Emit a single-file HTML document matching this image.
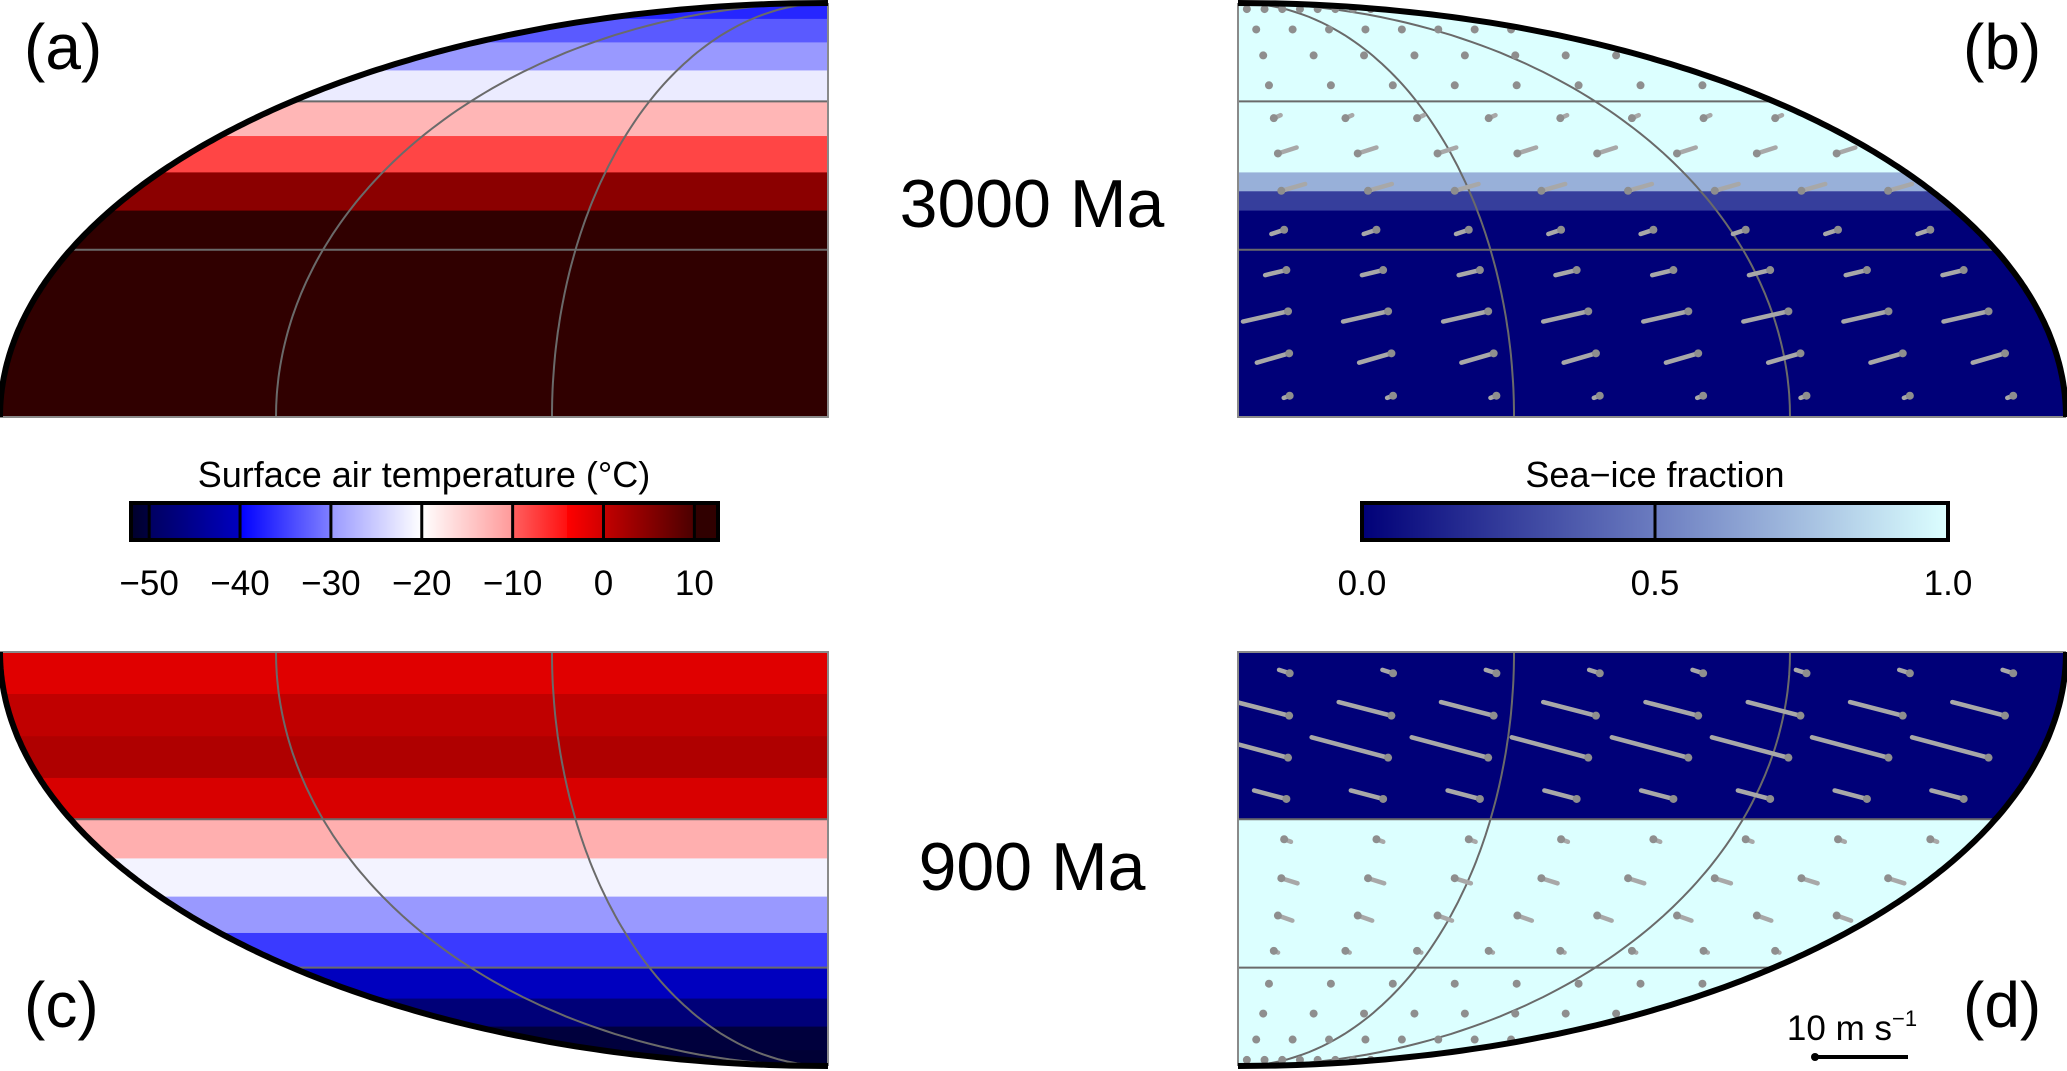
<!DOCTYPE html>
<html><head><meta charset="utf-8">
<style>
html,body{margin:0;padding:0;background:#fff;}
svg{display:block;font-family:"Liberation Sans",Arial,sans-serif;}
</style></head>
<body>
<svg id="fig" width="2067" height="1071" viewBox="0 0 2067 1071" xmlns="http://www.w3.org/2000/svg">
  <defs id="defs"></defs>
  <g id="maps"></g>
  <g id="cbars"></g>
  <text x="24" y="69" font-size="64">(a)</text>
  <text x="1963" y="69" font-size="64">(b)</text>
  <text x="24" y="1027" font-size="64">(c)</text>
  <text x="1963" y="1027" font-size="64">(d)</text>
  <text x="1032" y="227" font-size="68" text-anchor="middle">3000 Ma</text>
  <text x="1032" y="890" font-size="68" text-anchor="middle">900 Ma</text>
  <text x="424" y="487" font-size="36" text-anchor="middle">Surface air temperature (°C)</text>
  <text x="1655" y="487" font-size="36" text-anchor="middle">Sea−ice fraction</text>
  <g>
    <text x="1852" y="1040" font-size="35" text-anchor="middle">10 m s<tspan dy="-14" font-size="22">−1</tspan></text>
    <line x1="1815" y1="1057" x2="1908" y2="1057" stroke="#000" stroke-width="4"/>
    <circle cx="1815" cy="1057" r="4" fill="#000"/>
  </g>
</svg>
<script>
// ---------- data ----------
const bandEdgesT = [0,7.5,15,22.5,30,37.5,45,52.5,60,67.5,75,82.5,90];
const temp3000 = [11,11,11,11,11,4.7,-8,-12.8,-22,-30,-33,-37];
const temp900 = [-1.4,0.3,1.7,-0.7,-12.2,-21.2,-30,-35.5,-40.1,-47.5,-50.3,-51];
const iceEdges3000 = [0,37.5,41.25,45,90];
const ice3000 = [0,0.25,0.7,1];
const iceEdges900 = [0,30,90];
const ice900 = [0,1];
const windLats = [3.75,11.25,18.75,26.25,33.75,41.25,48.75,56.25,63.75,71.25,78.75,86.25];
const windU3000 = [0.7,3.8,5.3,2.5,1.5,-2.8,-2.2,-0.8,0,0,0,0];
const windV3000 = [0.25,1.1,1.2,0.6,0.5,-0.8,-0.7,-0.35,0,0,0,0];
const windU900 = [1.25,6.2,9,3.8,-0.8,-1.9,-1.7,-0.5,0,0,0,0];
const windV900 = [-0.4,-1.6,-2.4,-1,0.3,0.6,0.6,0.2,0,0,0,0];
const tempTicks = [-50,-40,-30,-20,-10,0,10];
const tempTickLabels = ["−50","−40","−30","−20","−10","0","10"];
const iceTicks = [0,0.5,1];
const iceTickLabels = ["0.0","0.5","1.0"];

const NS='http://www.w3.org/2000/svg';
function mk(tag, attrs, parent){const e=document.createElementNS(NS,tag);for(const k in attrs)e.setAttribute(k,attrs[k]);if(parent)parent.appendChild(e);return e;}
function hex(c){return [parseInt(c.slice(1,3),16),parseInt(c.slice(3,5),16),parseInt(c.slice(5,7),16)];}
function lerp(a,b,t){const A=hex(a),B=hex(b);return 'rgb('+A.map((v,i)=>Math.round(v+(B[i]-v)*t)).join(',')+')';}
const tSegs=[[-53,-50,'#000020','#000040'],[-50,-40,'#000060','#0000c0'],[-40,-30,'#0000ff','#8080ff'],[-30,-20,'#9999ff','#ffffff'],[-20,-10,'#ffffff','#ff9999'],[-10,-4,'#ff6060','#ff1010'],[-4,0,'#ff0000','#d00000'],[0,10,'#c40000','#4a0000'],[10,14,'#300000','#300000']];
function tColor(v){for(const s of tSegs){if(v>=s[0]&&v<s[1])return lerp(s[2],s[3],(v-s[0])/(s[1]-s[0]));}return v<-53?'#000020':'#300000';}
function iColor(v){return v<0.5?lerp('#000078','#6b7cc0',v/0.5):lerp('#6b7cc0','#dcffff',(v-0.5)/0.5);}

// ---------- projection (Mollweide) ----------
const RX=828, RY=414;
function theta(lat){const p=lat*Math.PI/180;if(Math.abs(lat)>=89.999)return Math.sign(lat)*Math.PI/2;let t=p;for(let i=0;i<50;i++){const f=2*t+Math.sin(2*t)-Math.PI*Math.sin(p);t-=f/(2+2*Math.cos(2*t));}return t;}
function proj(P,lat,lon){const t=theta(lat);return [P.cx+P.dx*RX*(lon/180)*Math.cos(t), P.cy+P.dy*RY*Math.sin(t)];}
const panels={
 a:{cx:828,cy:417,dx:-1,dy:-1},b:{cx:1238,cy:417,dx:1,dy:-1},
 c:{cx:828,cy:652,dx:-1,dy:1},d:{cx:1238,cy:652,dx:1,dy:1}};

const maps=document.getElementById('maps');
const defs=document.getElementById('defs');

function outlinePts(P){const pts=[[P.cx,P.cy]];for(let l=0;l<=90;l+=1)pts.push(proj(P,l,180));return pts;}
function ptsStr(pts){return pts.map(p=>p[0].toFixed(1)+','+p[1].toFixed(1)).join(' ');}

function drawPanel(key,edges,vals,colorFn,name,uArr,vArr){
  const P=panels[key];
  const g=mk('g',{},maps);
  
  
  const cp=mk('clipPath',{id:'clip-'+key},defs);
  mk('polygon',{points:ptsStr(outlinePts(P))},cp);
  const inner=mk('g',{'clip-path':'url(#clip-'+key+')'},g);
  for(let i=0;i<vals.length;i++){
    const y0=proj(P,edges[i],0)[1], y1=proj(P,edges[i+1],0)[1];
    const x=Math.min(P.cx,P.cx+P.dx*RX);
    const r=mk('rect',{x:x,y:Math.min(y0,y1)-0.5,width:RX,height:Math.abs(y1-y0)+1,fill:colorFn(vals[i])},inner);
    
    
  }
  [30,60].forEach(lat=>{
    const a=proj(P,lat,0),b=proj(P,lat,180);
    const l=mk('line',{x1:a[0],y1:a[1],x2:b[0],y2:b[1],stroke:'#6a6a6a','stroke-width':2},inner);
    
    
  });
  [60,120].forEach(lon=>{
    const pts=[];for(let l=0;l<=90;l+=1)pts.push(proj(P,l,lon));
    const m=mk('polyline',{points:ptsStr(pts),fill:'none',stroke:'#6a6a6a','stroke-width':2},inner);
    
    
  });
  if(uArr){
    const S=8.5;
    for(let r=0;r<windLats.length;r++){
      const lat=windLats[r];
      for(let i=0;i<8;i++){
        const lon=180*(i+0.5)/8;
        const h=proj(P,lat,lon);
        const tx=h[0]-uArr[r]*S, ty=h[1]+vArr[r]*S;
        const ln=mk('line',{x1:tx,y1:ty,x2:h[0],y2:h[1],stroke:'#a8a8a8','stroke-width':4.5,'stroke-linecap':'round'},inner);
        
        
        const c=mk('circle',{cx:h[0],cy:h[1],r:4,fill:'#8e8e8e'},inner);
        
        
      }
    }
  }
  const a=proj(P,0,0),b=proj(P,0,180),p=proj(P,90,0);
  const fe=mk('polyline',{points:ptsStr([b,a,p]),fill:'none',stroke:'#8a8a8a','stroke-width':2},g);
  
  
  const bpts=[];for(let l=0;l<=90;l+=0.5)bpts.push(proj(P,l,180));
  const bd=mk('polyline',{points:ptsStr(bpts),fill:'none',stroke:'#000','stroke-width':6,'stroke-linecap':'butt'},g);
  
  
}
drawPanel('a',bandEdgesT,temp3000,tColor,'panel-a-temperature-3000ma');
drawPanel('b',iceEdges3000,ice3000,iColor,'panel-b-sea-ice-3000ma',windU3000,windV3000);
drawPanel('c',bandEdgesT,temp900,tColor,'panel-c-temperature-900ma');
drawPanel('d',iceEdges900,ice900,iColor,'panel-d-sea-ice-900ma',windU900,windV900);

const cb=document.getElementById('cbars');
function colorbar(x0,x1,vmin,vmax,colorFn,ticks,labels,name,divs){
  const g=mk('g',{},cb);
  
  
  const y=503,h=37;
  const sx=v=>x0+(v-vmin)/(vmax-vmin)*(x1-x0);
  const n=Math.round(x1-x0);
  for(let i=0;i<n;i++){
    const v=vmin+(i+0.5)/n*(vmax-vmin);
    mk('rect',{x:x0+i,y:y,width:1.2,height:h,fill:colorFn(v)},g);
  }
  divs.forEach(v=>{const dv=mk('line',{x1:sx(v),y1:y,x2:sx(v),y2:y+h,stroke:'#000','stroke-width':3},g);
    
    });
  const fr=mk('rect',{x:x0,y:y,width:x1-x0,height:h,fill:'none',stroke:'#000','stroke-width':4},g);
  
  
  ticks.forEach((v,i)=>{const t=mk('text',{x:sx(v),y:595,'font-size':35,'text-anchor':'middle'},g);t.textContent=labels[i];
    
    });
}
colorbar(131,718,-52,12.6,tColor,tempTicks,tempTickLabels,'temperature-colorbar',tempTicks);
colorbar(1362,1948,0,1,iColor,iceTicks,iceTickLabels,'sea-ice-colorbar',[0.5]);
</script>
</body></html>
